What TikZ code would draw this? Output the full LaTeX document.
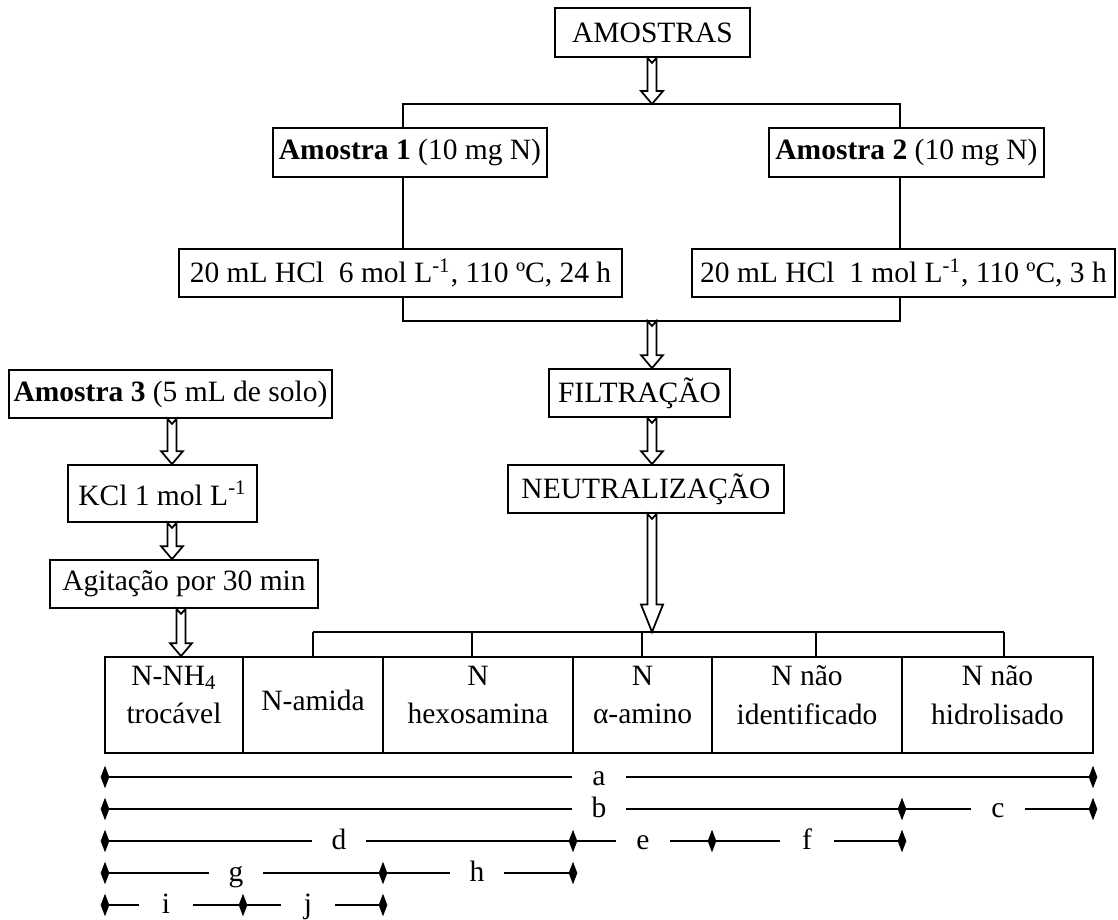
\documentclass[tikz,border=0pt]{standalone}
\usepackage{fontspec}
\setmainfont{Liberation Serif}
\usetikzlibrary{calc,shapes.geometric}

% hollow arrow: #1 head length, #2 start, #3 end (vertical)
\newcommand\hollowarrow[3][5.2pt]{%
  \draw[arrowbody] let \p1=#2, \p2=#3 in
   (\x1-1.8pt,\y1) -- (\x1,\y1-2pt) -- (\x1+1.8pt,\y1) -- (\x1+1.8pt,\y2+#1)
   -- (\x1+4.4pt,\y2+#1) -- (\x1,\y2) -- (\x1-4.4pt,\y2+#1) -- (\x1-1.8pt,\y2+#1) -- cycle;}
% dimension segment: left diamond, label, right diamond
\newcommand\dimseg[3]{%
  \draw[dimline] (#1.center) -- (#1.center -| #2.west) (#2.east |- #1.center) -- (#3.center);}

\begin{document}
\begin{tikzpicture}[x=0.4pt,y=-0.4pt,
  every node/.style={font=\fontsize{11.8}{15.5}\selectfont},
  box/.style={draw, line width=0.7pt, inner sep=0pt},
  txt/.style={align=center, inner sep=0pt},
  conn/.style={line width=0.7pt},
  arrowbody/.style={draw, fill=white, line width=0.7pt, line join=miter},
  dmd/.style={shape=diamond, fill=black, draw=none, inner sep=0pt, minimum width=3.6pt, minimum height=9.2pt},
  lbl/.style={inner sep=0pt, minimum width=21.2pt, anchor=base},
  dimline/.style={line width=0.6pt}]
\useasboundingbox (0,0) rectangle (1118,919);

% ---- boxes ----
\node[box, minimum width=78pt, minimum height=19.6pt] (amostras) at (652.5,32.5) {AMOSTRAS};
\node[box, minimum width=109.6pt, minimum height=19.6pt] (am1) at (410,152.5) {\textbf{Amostra 1} (10 mg N)};
\node[box, minimum width=110pt, minimum height=19.6pt] (am2) at (906.5,152.5) {\textbf{Amostra 2} (10 mg N)};
\node[box, minimum width=177.2pt, minimum height=19.2pt] (hcl1) at (400.5,273) {20 mL HCl\ \ 6 mol L\textsuperscript{-1}, 110 ºC, 24 h};
\node[box, minimum width=169.2pt, minimum height=19.2pt] (hcl2) at (903.5,273) {20 mL HCl\ \ 1 mol L\textsuperscript{-1}, 110 ºC, 3 h};
\node[box, minimum width=72.4pt, minimum height=19.2pt] (filt) at (639.5,393) {FILTRAÇÃO};
\node[box, minimum width=110.4pt, minimum height=19.2pt] (neut) at (646,489) {NEUTRALIZAÇÃO};
\node[box, minimum width=129.2pt, minimum height=19.2pt] (am3) at (170.5,394) {\textbf{Amostra 3} (5 mL de solo)};
\node[box, minimum width=75.6pt, minimum height=22.8pt] (kcl) at (162.5,493.5) {KCl 1 mol L\textsuperscript{-1}};
\node[box, minimum width=107.2pt, minimum height=19.2pt] (agit) at (184,584) {Agitação por 30 min};

% bottom row
\node[box, minimum width=55.2pt, minimum height=38.4pt] (nh4) at (174,705) {};
\node[box, minimum width=56pt, minimum height=38.4pt] (amida) at (313,705) {};
\node[box, minimum width=76pt, minimum height=38.4pt] (hexo) at (478,705) {};
\node[box, minimum width=55.6pt, minimum height=38.4pt] (alfa) at (642.5,705) {};
\node[box, minimum width=76pt, minimum height=38.4pt] (nid) at (807,705) {};
\node[box, minimum width=76.4pt, minimum height=38.4pt] (nhid) at (997.5,705) {};
\node[txt] (tnh4) at (174,695) {N-NH\textsubscript{4}\\trocável};
\node[txt] (tamida) at (313,700) {N-amida};
\node[txt] (thexo) at (478,695) {N\\hexosamina};
\node[txt] (talfa) at (642.5,695) {N\\α-amino};
\node[txt] (tnid) at (807,695) {N não\\identificado};
\node[txt] (tnhid) at (997.5,695) {N não\\hidrolisado};

% ---- connectors ----
\coordinate (ax) at (652,0);
\coordinate (t1) at (403,104); \coordinate (t2) at (900,104); \coordinate (tm) at (652,104);
\draw[conn] (am1.north -| t1) -- (t1) -- (t2) -- (am2.north -| t2);
\hollowarrow{(amostras.south -| ax)}{(tm)}
\draw[conn] (am1.south -| t1) -- (hcl1.north -| t1);
\draw[conn] (am2.south -| t2) -- (hcl2.north -| t2);
\coordinate (j1) at (403,321); \coordinate (j2) at (900,321); \coordinate (jm) at (652,321);
\draw[conn] (hcl1.south -| j1) -- (j1) -- (j2) -- (hcl2.south -| j2);
\hollowarrow{(jm)}{(filt.north -| ax)}
\hollowarrow{(filt.south -| ax)}{(neut.north -| ax)}
\coordinate (b1) at (313,632); \coordinate (b2) at (472,632); \coordinate (b3) at (642,632);
\coordinate (b4) at (816,632); \coordinate (b5) at (1004,632); \coordinate (bm) at (652,632);
\draw[conn] (b1) -- (b5);
\draw[conn] (b1) -- (amida.north -| b1);
\draw[conn] (b2) -- (hexo.north -| b2);
\draw[conn] (b3) -- (alfa.north -| b3);
\draw[conn] (b4) -- (nid.north -| b4);
\draw[conn] (b5) -- (nhid.north -| b5);
\hollowarrow[11pt]{(neut.south -| ax)}{(bm)}
\coordinate (lx) at (172,0); \coordinate (lx2) at (181,0);
\hollowarrow{(am3.south -| lx)}{(kcl.north -| lx)}
\hollowarrow{(kcl.south -| lx)}{(agit.north -| lx)}
\hollowarrow{(agit.south -| lx2)}{(nh4.north -| lx2)}

% ---- dimension rows ----
% row a
\node[dmd] (a0) at (105,777) {}; \node[dmd] (a1) at (1093,777) {};
\node[lbl] (la) at (599,785) {a};
\dimseg{a0}{la}{a1}
% row b / c
\node[dmd] (r0) at (105,809) {}; \node[dmd] (r1) at (902,809) {}; \node[dmd] (r2) at (1093,809) {};
\node[lbl] (lb) at (599,817) {b};
\node[lbl] (lc) at (998,817) {c};
\dimseg{r0}{lb}{r1}
\dimseg{r1}{lc}{r2}
% row d / e / f
\node[dmd] (d0) at (105,841) {}; \node[dmd] (d1) at (573,841) {};
\node[dmd] (d2) at (712,841) {}; \node[dmd] (d3) at (902,841) {};
\node[lbl] (ld) at (339,849) {d};
\node[lbl] (le) at (643,849) {e};
\node[lbl] (lf) at (807,849) {f};
\dimseg{d0}{ld}{d1}
\dimseg{d1}{le}{d2}
\dimseg{d2}{lf}{d3}
% row g / h
\node[dmd] (g0) at (105,873) {}; \node[dmd] (g1) at (383,873) {}; \node[dmd] (g2) at (573,873) {};
\node[lbl] (lg) at (236,881) {g};
\node[lbl] (lh) at (477,881) {h};
\dimseg{g0}{lg}{g1}
\dimseg{g1}{lh}{g2}
% row i / j
\node[dmd] (i0) at (105,905) {}; \node[dmd] (i1) at (243,905) {}; \node[dmd] (i2) at (383,905) {};
\node[lbl] (li) at (166,913) {i};
\node[lbl] (lj) at (308,913) {j};
\dimseg{i0}{li}{i1}
\dimseg{i1}{lj}{i2}
\end{tikzpicture}
\end{document}
